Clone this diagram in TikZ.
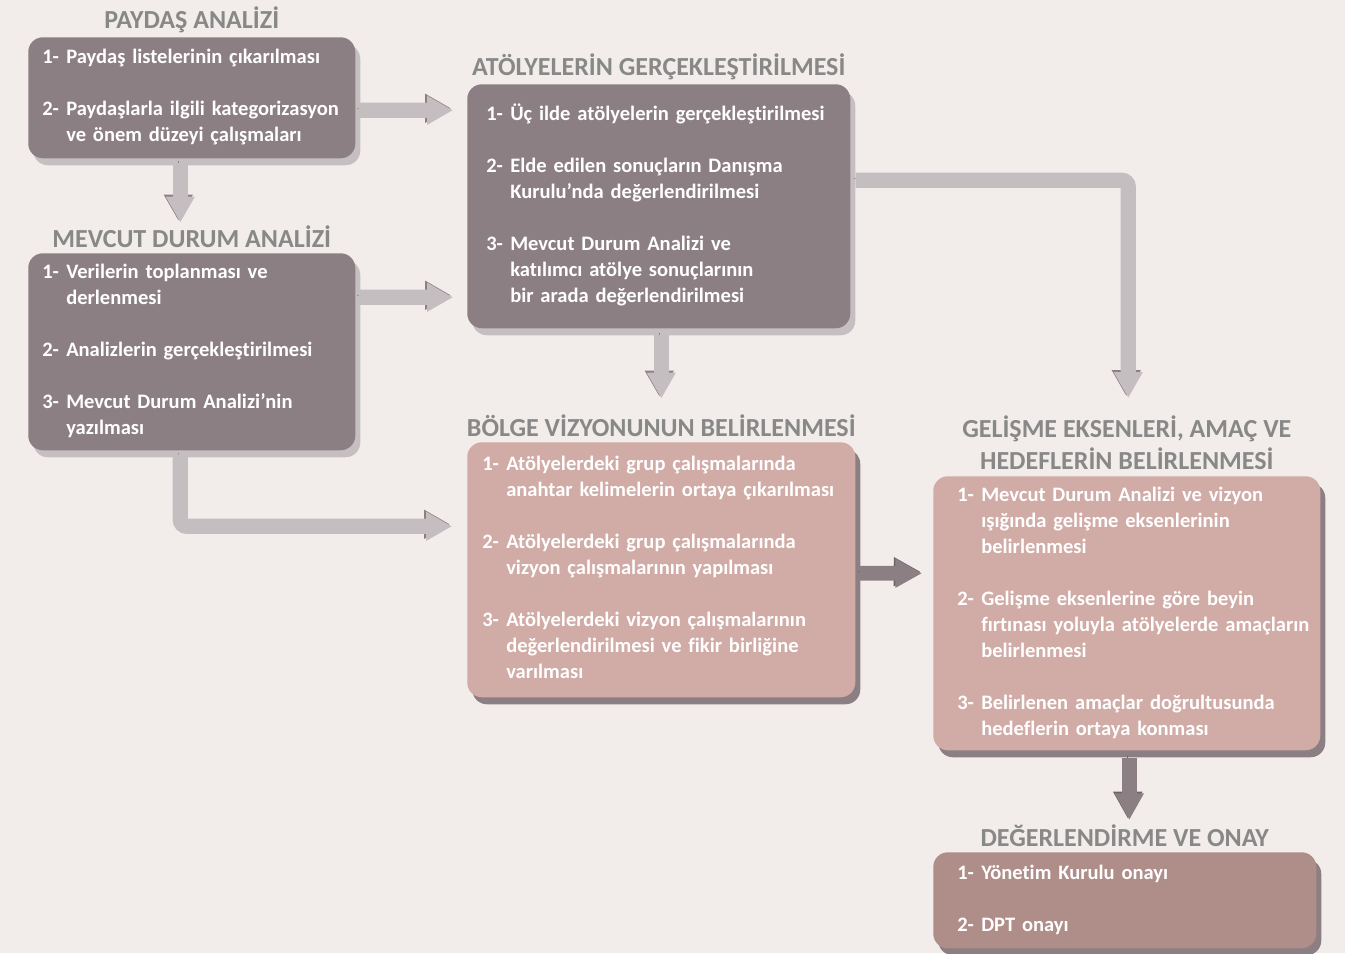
\documentclass[tikz,border=0pt]{standalone}
\usepackage{fontspec}
\setmainfont{Carlito}[Ligatures={NoCommon}]
\usetikzlibrary{arrows.meta, calc, positioning, shadows}
\definecolor{zemin}{HTML}{F2EDEA}
\definecolor{koyu}{HTML}{8C7F83}
\definecolor{acikgolge}{HTML}{C5BFC1}
\definecolor{pembe}{HTML}{D1ABA6}
\definecolor{gul}{HTML}{AF8D88}
\definecolor{okrenk}{HTML}{C4BEC0}
\definecolor{okgolge}{HTML}{8C7F83}
\definecolor{okkoyugolge}{HTML}{6E6366}
\definecolor{baslikrenk}{HTML}{888888}
\newenvironment{maddeler}{\begin{tabular}{@{}p{18pt}@{}l@{}}}{\end{tabular}}
\tikzset{
  kutu/.style={anchor=north west, rounded corners=11pt, align=left, text=white, inner ysep=0pt,
    font=\bfseries\fontsize{15.4}{19.5}\selectfont},
  gri/.style={kutu, fill=koyu, drop shadow={shadow xshift=3.75pt, shadow yshift=-5.25pt, opacity=1, fill=acikgolge}},
  pembekutu/.style={kutu, fill=#1, drop shadow={shadow xshift=3.75pt, shadow yshift=-5.25pt, opacity=1, fill=koyu}},
  baslik/.style={inner sep=0pt, text depth=0pt, align=center, text=baslikrenk,
    font=\bfseries\fontsize{19.5}{24.5}\selectfont},
  okacik/.style={line width=11.5pt, draw=okrenk, -{Triangle[width=20.5pt,length=19.5pt]},
    preaction={draw=okgolge, transform canvas={shift={(-1.5pt,1.5pt)}}}},
  okkoyu/.style={line width=11pt, draw=koyu, -{Triangle[width=20.5pt,length=20pt]},
    preaction={draw=okkoyugolge, transform canvas={shift={(-1.2pt,1.2pt)}}}}
}

\begin{document}
\begin{tikzpicture}[x=0.75pt, y=0.75pt]
  \fill[zemin] (0,0) rectangle (1345,-953);
  \useasboundingbox (0,0) rectangle (1345,-953);

  \node[gri, text width=224.25pt, inner xsep=10.5pt, minimum height=90.75pt] (paydas) at (28,-37) {%
    \begin{maddeler}
    1- & Paydaş listelerinin çıkarılması\\ \\
    2- & Paydaşlarla ilgili kategorizasyon\\
       & ve önem düzeyi çalışmaları
    \end{maddeler}};
  \node[gri, text width=224.25pt, inner xsep=10.5pt, minimum height=147.75pt] (mevcut) at (28,-253) {%
    \begin{maddeler}
    1- & Verilerin toplanması ve\\
       & derlenmesi\\ \\
    2- & Analizlerin gerçekleştirilmesi\\ \\
    3- & Mevcut Durum Analizi’nin\\
       & yazılması
    \end{maddeler}};
  \node[gri, text width=258.75pt, inner xsep=14.25pt, minimum height=183pt] (atolye) at (467,-84) {%
    \begin{maddeler}
    1- & Üç ilde atölyelerin gerçekleştirilmesi\\ \\
    2- & Elde edilen sonuçların Danışma\\
       & Kurulu’nda değerlendirilmesi\\ \\
    3- & Mevcut Durum Analizi ve\\
       & katılımcı atölye sonuçlarının\\
       & bir arada değerlendirilmesi
    \end{maddeler}};
  \node[pembekutu=pembe, text width=268.5pt, inner xsep=11.25pt, minimum height=191.25pt] (vizyon) at (467,-442) {%
    \begin{maddeler}
    1- & Atölyelerdeki grup çalışmalarında\\
       & anahtar kelimelerin ortaya çıkarılması\\ \\
    2- & Atölyelerdeki grup çalışmalarında\\
       & vizyon çalışmalarının yapılması\\ \\
    3- & Atölyelerdeki vizyon çalışmalarının\\
       & değerlendirilmesi ve fikir birliğine\\
       & varılması
    \end{maddeler}};
  \node[pembekutu=pembe, text width=254.25pt, inner xsep=18pt, minimum height=205.5pt] (eksen) at (933,-476) {%
    \begin{maddeler}
    1- & Mevcut Durum Analizi ve vizyon\\
       & ışığında gelişme eksenlerinin\\
       & belirlenmesi\\ \\
    2- & Gelişme eksenlerine göre beyin\\
       & fırtınası yoluyla atölyelerde amaçların\\
       & belirlenmesi\\ \\
    3- & Belirlenen amaçlar doğrultusunda\\
       & hedeflerin ortaya konması
    \end{maddeler}};
  \node[pembekutu=gul, text width=251.25pt, inner xsep=18pt, minimum height=72pt] (onay) at (933,-852) {%
    \begin{maddeler}
    1- & Yönetim Kurulu onayı\\ \\
    2- & DPT onayı
    \end{maddeler}};

  \node[baslik] (paydasT) [above=6pt of paydas] {PAYDAŞ ANALİZİ};
  \node[baslik] (mevcutT) [above=4pt of mevcut] {MEVCUT DURUM ANALİZİ};
  \node[baslik] (atolyeT) [above=6.5pt of atolye] {ATÖLYELERİN GERÇEKLEŞTİRİLMESİ};
  \node[baslik] (vizyonT) [above=4pt of vizyon] {BÖLGE VİZYONUNUN BELİRLENMESİ};
  \node[baslik] (eksenT) [above=4.5pt of eksen] {GELİŞME EKSENLERİ, AMAÇ VE\\HEDEFLERİN BELİRLENMESİ};
  \node[baslik] (onayT) [above=4pt of onay] {DEĞERLENDİRME VE ONAY};

  \draw[okacik] ([xshift=-8.6pt, yshift=-3pt]paydas.south) -- ([xshift=-8.6pt, yshift=-48pt]paydas.south);
  \draw[okacik] ([xshift=2.5pt, yshift=-9.4pt]paydas.east) -- ([xshift=-10.5pt, yshift=72pt]atolye.west);
  \draw[okacik] ([xshift=2.5pt, yshift=40.9pt]mevcut.east) -- ([xshift=-10.5pt, yshift=-68.25pt]atolye.west);
  \draw[okacik, rounded corners=5pt] ([xshift=-8.6pt, yshift=-3pt]mevcut.south) |- ([xshift=-11.25pt, yshift=32.6pt]vizyon.west);
  \draw[okacik] ([xshift=1.9pt, yshift=-4.5pt]atolye.south) -- ([xshift=1.9pt, yshift=-52.5pt]atolye.south);
  \draw[okacik, rounded corners=5pt] ([xshift=3.75pt, yshift=19.5pt]atolye.east) -| ([xshift=1.1pt, yshift=58.5pt]eksen.north);
  \draw[okkoyu] ([xshift=3pt, yshift=-2.6pt]vizyon.east) -- ([xshift=-8.25pt, yshift=30pt]eksen.west);
  \draw[okkoyu] ([xshift=1.9pt, yshift=-5.5pt]eksen.south) -- ([xshift=3.4pt, yshift=24pt]onay.north);
\end{tikzpicture}
\end{document}
